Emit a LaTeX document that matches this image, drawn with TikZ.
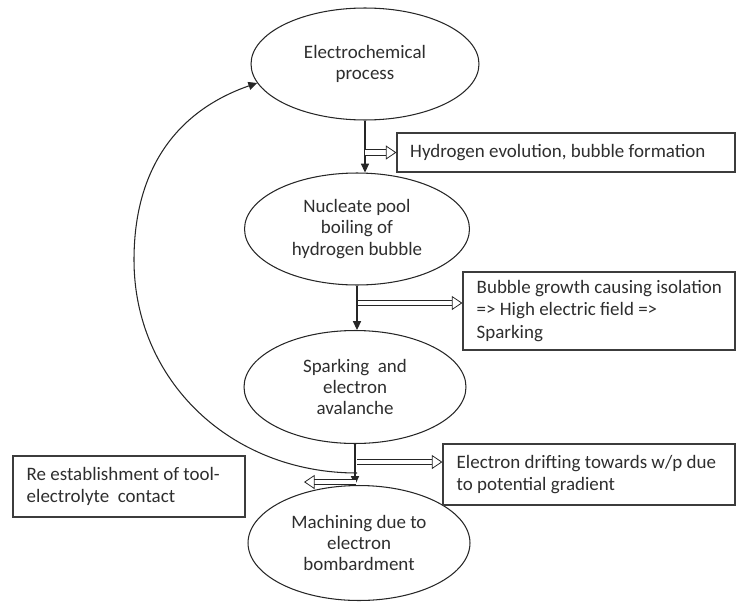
\documentclass[tikz,border=0pt]{standalone}
\usepackage{fontspec}
\setmainfont{Carlito}
\usetikzlibrary{arrows.meta,shapes.geometric,positioning}

\definecolor{inkline}{HTML}{262626}
\definecolor{inktext}{HTML}{2E2E2E}
\definecolor{boxline}{HTML}{3C3C3C}

\tikzset{
  stage/.style = {draw=inkline, ellipse, line width=0.6pt, inner sep=0pt, align=center,
                  text=inktext, font=\fontsize{10.8}{12.2}\selectfont},
  infobox/.style = {draw=boxline, rectangle, line width=0.75pt, inner sep=0pt},
  infotext/.style = {align=left, inner sep=0pt, text=inktext, font=\fontsize{10.8}{12.8}\selectfont},
  flow/.style = {draw=inkline, line width=0.6pt, -{Triangle[length=5pt, width=4.6pt]}},
  hollow/.style = {draw=inkline, double=white, double distance=2.6pt, line width=0.45pt,
                   -{Triangle[open, length=6pt, width=8pt]}}
}

\begin{document}
\begin{tikzpicture}[x=0.02cm, y=-0.02cm]
    \useasboundingbox (0,0) rectangle (736,605);

    \node [stage, minimum width=4.56cm, minimum height=2.24cm] (chem) at (365,64) {Electrochemical\\process};
    \node [stage, minimum width=4.5cm, minimum height=2.24cm] (boil) at (357,229) {Nucleate pool\\boiling of\\hydrogen bubble};
    \node [stage, minimum width=4.44cm, minimum height=2.26cm] (spark) at (355,387) {Sparking\ \ and\\electron\\avalanche};
    \node [stage, minimum width=4.44cm, minimum height=2.3cm] (mach) at (359,543) {Machining due to\\electron\\bombardment};

    \node [infobox, minimum width=6.76cm, minimum height=0.78cm] (hydro) at (566,152.5) {};
    \node [infotext, right=0.27cm of hydro.west] (hydrotxt) {Hydrogen evolution, bubble formation};
    \node [infobox, minimum width=5.44cm, minimum height=1.56cm] (iso) at (599,311) {};
    \node [infotext, right=0.28cm of iso.west] (isotxt) {Bubble growth causing isolation\\=> High electric field =>\\Sparking};
    \node [infobox, minimum width=5.84cm, minimum height=1.22cm] (drift) at (589,474.5) {};
    \node [infotext, right=0.28cm of drift.west] (drifttxt) {Electron drifting towards w/p due\\to potential gradient};
    \node [infobox, minimum width=4.64cm, minimum height=1.22cm] (contact) at (129,486.5) {};
    \node [infotext, right=0.28cm of contact.west] (contacttxt) {Re establishment of tool-\\electrolyte\ \ contact};

    \draw [flow] (chem.south) -- (chem.south |- boil.north);
    \draw [flow] (boil.south) -- (boil.south |- spark.north);
    \draw [flow] (spark.south) -- (spark.south |- mach.north);

    \coordinate (isotail) at (358,303);
    \coordinate (drifttail) at (357,462);
    \coordinate (backtail) at (356,482);
    \coordinate (backtip) at (304,482);
    \coordinate (loopstart) at (357,473);

    \draw [hollow] (chem.south |- hydro.west) -- (hydro.west);
    \draw [hollow] (isotail) -- (isotail -| iso.west);
    \draw [hollow] (drifttail) -- (drifttail -| drift.west);
    \draw [hollow] (backtail) -- (backtip);

    \draw [flow] (loopstart) .. controls (230,473) and (134,380) .. (134,260)
                 .. controls (134,160) and (185,108) .. (chem.190);
\end{tikzpicture}
\end{document}
